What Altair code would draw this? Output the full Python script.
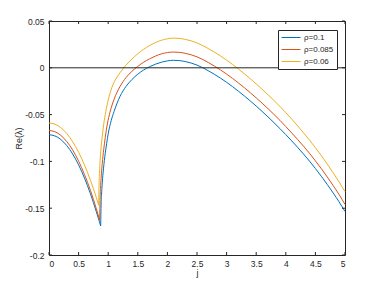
import altair as alt
import pandas as pd

# ---- data ----
series_labels = ["ρ=0.1", "ρ=0.085", "ρ=0.06"]
series_colors = ["#0072BD", "#D95319", "#EDB120"]

j_rho_01 = [0, 0.1, 0.2, 0.3, 0.4, 0.5, 0.6, 0.7, 0.8, 0.873,
            0.88, 0.89, 0.90, 0.92, 0.95, 0.975, 1.0, 1.05, 1.1, 1.2, 1.3,
            1.4, 1.5, 1.6, 1.7, 1.8, 1.9, 2.0, 2.1, 2.2, 2.3, 2.4, 2.5,
            2.6, 2.7, 2.8, 2.9, 3.0, 3.1, 3.2, 3.3, 3.4, 3.5, 3.6, 3.7,
            3.8, 3.9, 4.0, 4.1, 4.2, 4.3, 4.4, 4.5, 4.6, 4.7, 4.8, 4.9, 5.0]
re_rho_01 = [-0.0715, -0.0728, -0.0766, -0.0831, -0.0921, -0.1037, -0.1179, -0.1346, -0.1539, -0.169,
             -0.1455, -0.1325, -0.1228, -0.108, -0.0915, -0.0805, -0.0705, -0.0565, -0.0465, -0.0305, -0.0200,
             -0.0126, -0.0068, -0.0023, 0.0012, 0.0039, 0.0060, 0.0074, 0.0080, 0.0077, 0.0067, 0.0051, 0.0029,
             0.0000, -0.0035, -0.0072, -0.0112, -0.0155, -0.0201, -0.0250, -0.0301, -0.0354, -0.0409, -0.0466, -0.0525,
             -0.0586, -0.0649, -0.0714, -0.0781, -0.0850, -0.0922, -0.0997, -0.1076, -0.1159, -0.1246, -0.1337, -0.1432, -0.1535]

j_rho_0085 = [0, 0.1, 0.2, 0.3, 0.4, 0.5, 0.6, 0.7, 0.8, 0.857,
              0.862, 0.87, 0.88, 0.90, 0.925, 0.95, 0.986, 1.03, 1.1, 1.2, 1.3,
              1.4, 1.5, 1.6, 1.7, 1.8, 1.9, 2.0, 2.1, 2.2, 2.3, 2.4, 2.5,
              2.6, 2.7, 2.8, 2.9, 3.0, 3.1, 3.2, 3.3, 3.4, 3.5, 3.6, 3.7,
              3.8, 3.9, 4.0, 4.1, 4.2, 4.3, 4.4, 4.5, 4.6, 4.7, 4.8, 4.9, 5.0]
re_rho_0085 = [-0.067, -0.0683, -0.0722, -0.0788, -0.0879, -0.0997, -0.1141, -0.131, -0.1507, -0.163,
               -0.142, -0.129, -0.118, -0.102, -0.087, -0.0745, -0.0600, -0.0475, -0.0335, -0.0200, -0.0105,
               -0.0038, 0.0015, 0.0060, 0.0096, 0.0126, 0.0149, 0.0163, 0.0168, 0.0165, 0.0155, 0.0139, 0.0117,
               0.0088, 0.0053, 0.0016, -0.0024, -0.0067, -0.0113, -0.0162, -0.0213, -0.0266, -0.0321, -0.0378, -0.0437,
               -0.0498, -0.0561, -0.0628, -0.0696, -0.0766, -0.0838, -0.0913, -0.0994, -0.1078, -0.1166, -0.1258, -0.1354, -0.1460]

j_rho_006 = [0, 0.1, 0.2, 0.3, 0.4, 0.5, 0.6, 0.7, 0.8, 0.840,
             0.845, 0.852, 0.860, 0.875, 0.90, 0.924, 0.96, 1.0, 1.065, 1.15, 1.2,
             1.262, 1.3, 1.4, 1.5, 1.6, 1.7, 1.8, 1.9, 2.0, 2.1, 2.2, 2.3, 2.4, 2.5,
             2.6, 2.7, 2.8, 2.9, 3.0, 3.1, 3.2, 3.3, 3.4, 3.5, 3.6, 3.7,
             3.8, 3.9, 4.0, 4.1, 4.2, 4.3, 4.4, 4.5, 4.6, 4.7, 4.8, 4.9, 5.0]
re_rho_006 = [-0.059, -0.0602, -0.064, -0.0702, -0.079, -0.0902, -0.1039, -0.1201, -0.1388, -0.147,
              -0.127, -0.113, -0.103, -0.089, -0.073, -0.0605, -0.0465, -0.0345, -0.0205, -0.0098, -0.0052,
              0.0, 0.0028, 0.0093, 0.0150, 0.0198, 0.0238, 0.0270, 0.0294, 0.0310, 0.0317, 0.0314, 0.0304, 0.0288, 0.0266,
              0.0237, 0.0202, 0.0165, 0.0125, 0.0082, 0.0036, -0.0013, -0.0064, -0.0117, -0.0172, -0.0229, -0.0288,
              -0.0349, -0.0412, -0.0479, -0.0548, -0.0620, -0.0695, -0.0772, -0.0854, -0.0939, -0.1028, -0.1122, -0.1219, -0.1323]

x_ticks = [0, 0.5, 1, 1.5, 2, 2.5, 3, 3.5, 4, 4.5, 5]
y_ticks = [-0.2, -0.15, -0.1, -0.05, 0, 0.05]

# ---- build table: each curve split at its cusp (minimum) into two branches ----
rows = []
for lab, js, vs in zip(series_labels, [j_rho_01, j_rho_0085, j_rho_006],
                       [re_rho_01, re_rho_0085, re_rho_006]):
    k = vs.index(min(vs))
    for i, (a, b) in enumerate(zip(js, vs)):
        if i <= k:
            rows.append({"j": a, "re": b, "rho": lab, "seg": lab + "L", "i": i})
        if i >= k:
            rows.append({"j": a, "re": b, "rho": lab, "seg": lab + "R", "i": i})
df = pd.DataFrame(rows)

W, H = 296, 234
AX = "#262626"
FONT = "Liberation Sans"

xscale = alt.Scale(domain=[0, 5], nice=False, zero=False)
yscale = alt.Scale(domain=[-0.2, 0.05], nice=False, zero=False)
xaxis = alt.Axis(values=x_ticks, labelExpr="'' + datum.value", title="j",
                 domain=False, ticks=False, grid=False, labelPadding=4, titlePadding=1)
yaxis = alt.Axis(values=y_ticks, labelExpr="'' + datum.value", title="Re(λ)",
                 domain=False, ticks=False, grid=False, labelPadding=5, titlePadding=1)

lines = alt.Chart(df).mark_line(strokeWidth=1, interpolate="monotone").encode(
    x=alt.X("j:Q", scale=xscale, axis=xaxis, title="j"),
    y=alt.Y("re:Q", scale=yscale, axis=yaxis, title="Re(λ)"),
    color=alt.Color("rho:N",
                    scale=alt.Scale(domain=series_labels, range=series_colors),
                    legend=alt.Legend(title=None, orient="none", legendX=229, legendY=9,
                                      symbolType="stroke", symbolSize=361, symbolStrokeWidth=1,
                                      labelFontSize=8, labelFont=FONT, labelColor=AX,
                                      padding=3, rowPadding=3, labelOffset=3, clipHeight=9,
                                      strokeColor=AX, fillColor="white")),
    detail="seg:N",
    order="i:Q",
)

zero = alt.Chart(pd.DataFrame({"z": [0]})).mark_rule(color=AX, strokeWidth=1).encode(
    y=alt.Y("z:Q", scale=yscale, axis=yaxis, title="Re(λ)")
)

xt = pd.DataFrame({"t": x_ticks})
yt = pd.DataFrame({"t": y_ticks})
tick_b = alt.Chart(xt).mark_rule(color=AX, strokeWidth=1).encode(
    x=alt.X("t:Q", scale=xscale, axis=xaxis, title="j"), y=alt.value(H), y2=alt.value(H - 3))
tick_t = alt.Chart(xt).mark_rule(color=AX, strokeWidth=1).encode(
    x=alt.X("t:Q", scale=xscale, axis=xaxis, title="j"), y=alt.value(0), y2=alt.value(3))
tick_l = alt.Chart(yt).mark_rule(color=AX, strokeWidth=1).encode(
    y=alt.Y("t:Q", scale=yscale, axis=yaxis, title="Re(λ)"), x=alt.value(0), x2=alt.value(3))
tick_r = alt.Chart(yt).mark_rule(color=AX, strokeWidth=1).encode(
    y=alt.Y("t:Q", scale=yscale, axis=yaxis, title="Re(λ)"), x=alt.value(W), x2=alt.value(W - 3))

chart = alt.layer(lines, zero, tick_b, tick_t, tick_l, tick_r).properties(
    width=W, height=H,
    autosize=alt.AutoSizeParams(type="none"),
    padding={"left": 41, "top": 13, "right": 29, "bottom": 23},
).configure_view(
    stroke=AX, strokeWidth=1
).configure_axis(
    labelFont=FONT, labelFontSize=8.5, labelColor=AX,
    titleFont=FONT, titleFontSize=9, titleColor=AX, titleFontWeight="normal",
)

chart.save("out.html", embed_options={"renderer": "svg", "actions": False})
